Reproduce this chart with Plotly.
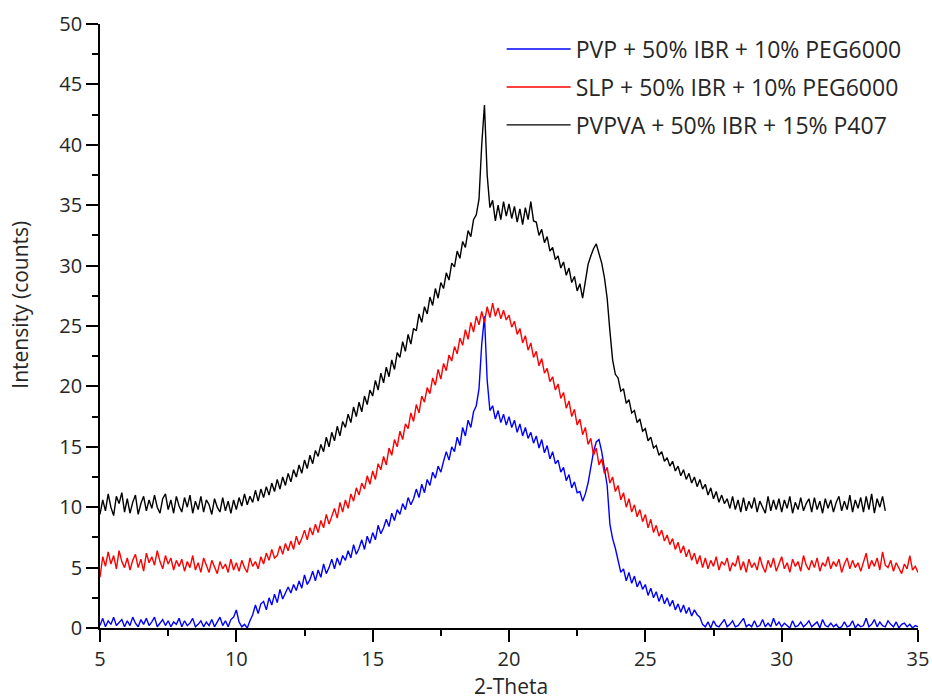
import plotly.graph_objects as go

# 2-theta scan grid (step 0.1 deg)
two_theta_full = [round(5 + 0.1 * i, 1) for i in range(301)]     # 5.0 .. 35.0
two_theta_black = [round(5 + 0.1 * i, 1) for i in range(289)]    # 5.0 .. 33.8

series_names = [
    "PVP + 50% IBR + 10% PEG6000",
    "SLP + 50% IBR + 10% PEG6000",
    "PVPVA + 50% IBR + 15% P407",
]

pvp_counts = [
    0.2, 0.8, 0.1, 0.6, 0.3, 0.9, 0.2, 0.5, 0.7, 0.1,
    0.6, 0.2, 0.9, 0.4, 0.1, 0.7, 0.3, 0.8, 0.2, 0.5,
    0.9, 0.1, 0.4, 0.7, 0.2, 0.6, 0.1, 0.5, 0.3, 0.8,
    0.1, 0.6, 0.2, 0.4, 0.8, 0.1, 0.3, 0.6, 0.1, 0.5,
    0.2, 0.7, 0.1, 0.5, 0.9, 0.2, 0.6, 0.1, 0.7, 0.9,
    1.5, 0.5, 0.1, 0.3, 0.0, 0.6, 1.1, 1.9, 1.2, 2.0,
    2.2, 1.5, 2.5, 1.9, 2.8, 2.1, 3.2, 2.4, 2.9, 3.4,
    2.9, 3.6, 3.1, 3.9, 3.3, 4.4, 3.6, 4.0, 4.7, 3.9,
    4.8, 4.2, 5.3, 4.5, 5.0, 5.7, 4.9, 5.8, 5.2, 6.0,
    5.6, 6.4, 5.8, 6.9, 6.1, 6.6, 7.3, 6.5, 7.6, 7.0,
    7.9, 7.3, 8.5, 7.8, 8.3, 9.0, 8.4, 9.5, 8.9, 9.8,
    9.4, 10.3, 9.8, 10.8, 10.2, 10.7, 11.5, 10.8, 11.9, 11.2,
    12.3, 11.8, 12.9, 12.4, 13.4, 12.9, 13.8, 14.6, 13.9, 15.0,
    14.6, 15.8, 15.1, 16.6, 15.9, 17.2, 16.6, 17.9, 18.4, 19.8,
    23.5, 25.8, 20.5, 18.0, 18.4, 17.3, 18.0, 17.0, 17.7, 16.8,
    17.5, 16.6, 17.2, 16.2, 16.9, 15.9, 16.6, 15.7, 16.2, 15.3,
    15.9, 14.9, 15.6, 14.5, 15.1, 14.0, 14.6, 13.6, 13.9, 12.9,
    13.3, 12.2, 12.7, 11.6, 12.1, 11.2, 11.3, 10.5, 11.1, 12.0,
    13.3, 14.6, 15.4, 15.6, 14.6, 13.2, 11.8, 8.6, 7.4, 6.6,
    5.5, 4.6, 4.9, 3.9, 4.6, 3.7, 4.3, 3.4, 3.9, 3.2,
    3.6, 2.7, 3.3, 2.5, 3.0, 2.2, 2.8, 2.0, 2.5, 1.8,
    2.3, 1.5, 2.0, 1.3, 1.9, 1.2, 1.7, 1.0, 1.5, 1.1,
    0.9, 0.3, 0.1, 0.5, 0.0, 0.6, 0.2, 0.1, 0.4, 0.7,
    0.1, 0.3, 0.6, 0.1, 0.2, 0.5, 0.8, 0.1, 0.3, 0.1,
    0.6, 0.1, 0.2, 0.7, 0.1, 0.4, 0.1, 0.8, 0.2, 0.5,
    0.1, 0.4, 0.2, 0.0, 0.6, 0.1, 0.2, 0.5, 0.1, 0.3,
    0.6, 0.1, 0.3, 0.5, 0.0, 0.7, 0.2, 0.1, 0.4, 0.1,
    0.3, 0.0, 0.1, 0.5, 0.1, 0.2, 0.6, 0.0, 0.3, 0.1,
    0.2, 0.8, 0.1, 0.3, 0.7, 0.1, 0.5, 0.2, 0.1, 0.6,
    0.3, 0.1, 0.5, 0.0, 0.3, 0.4, 0.1, 0.3, 0.0, 0.2,
    0.1,
]

slp_counts = [
    4.2, 5.9, 5.1, 6.3, 5.3, 6.0, 4.9, 6.4, 5.5, 5.0,
    5.8, 4.8, 5.6, 6.1, 5.0, 5.7, 4.7, 6.2, 5.4, 5.9,
    5.2, 6.4, 5.5, 4.9, 6.0, 5.3, 5.8, 4.8, 5.6, 5.1,
    5.7, 4.7, 5.5, 5.0, 6.0, 4.8, 5.4, 4.6, 5.8, 5.1,
    4.6, 5.6, 5.0, 4.5, 5.5, 4.9, 5.3, 4.6, 5.7, 4.8,
    5.4, 4.7, 5.6, 5.0, 4.6, 5.8, 5.1, 5.5, 4.9, 5.9,
    5.3, 6.2, 5.6, 6.5, 5.8, 6.0, 6.8, 6.1, 7.0, 6.4,
    7.2, 6.5, 7.6, 6.9, 7.4, 8.1, 7.3, 8.3, 7.7, 8.6,
    7.9, 8.9, 8.3, 9.4, 8.6, 9.2, 9.9, 9.1, 10.4, 9.6,
    10.6, 9.9, 11.1, 10.5, 11.6, 11.0, 12.0, 11.5, 12.6, 11.9,
    13.0, 12.3, 13.6, 13.1, 14.2, 13.5, 14.9, 14.3, 15.6, 15.0,
    16.3, 15.6, 16.9, 16.5, 17.8, 17.1, 18.5, 17.8, 19.2, 18.7,
    19.9, 19.4, 20.7, 20.1, 21.4, 20.6, 21.9, 21.3, 22.6, 22.1,
    23.3, 22.7, 24.0, 23.4, 24.7, 23.9, 25.3, 24.5, 25.8, 25.1,
    26.2, 25.3, 26.6, 25.7, 26.9, 25.8, 26.5, 25.6, 26.3, 25.5,
    25.9, 24.9, 25.4, 24.3, 24.8, 23.6, 24.2, 23.0, 23.6, 22.4,
    22.9, 21.7, 22.3, 21.1, 21.5, 20.4, 20.8, 19.7, 20.2, 19.0,
    19.5, 18.2, 18.8, 17.5, 18.1, 16.8, 17.3, 16.0, 16.6, 15.2,
    15.7, 14.3, 14.9, 13.5, 14.0, 12.8, 13.3, 12.0, 12.5, 11.3,
    11.8, 10.6, 11.2, 10.0, 10.7, 9.6, 10.2, 9.2, 9.8, 8.8,
    9.4, 8.3, 9.0, 7.9, 8.5, 7.6, 8.1, 7.2, 7.7, 6.9,
    7.4, 6.5, 7.1, 6.2, 6.8, 5.9, 6.5, 5.6, 6.2, 5.3,
    6.0, 5.0, 5.8, 4.9, 5.6, 5.1, 5.9, 4.8, 5.5, 5.2,
    5.8, 4.7, 5.4, 5.1, 6.0, 4.8, 5.5, 4.6, 5.7, 5.0,
    5.4, 4.8, 5.9, 5.1, 4.6, 5.6, 5.0, 5.8, 4.7, 5.3,
    5.9, 4.9, 5.4, 4.6, 5.7, 5.1, 5.5, 4.7, 6.0, 5.2,
    4.8, 5.6, 5.0, 5.8, 4.7, 5.4, 5.1, 5.9, 4.9, 5.5,
    5.1, 5.7, 4.6, 5.3, 5.8, 4.9, 5.6, 5.0, 5.4, 4.7,
    5.5, 6.2, 4.9, 5.6, 5.1, 5.8, 4.8, 6.3, 5.2, 5.0,
    5.6, 4.7, 5.4, 5.0, 4.5, 5.3, 4.9, 6.0, 4.8, 5.1,
    4.6,
]

pvpva_counts = [
    9.4, 10.6, 9.7, 11.1, 10.0, 9.3, 10.9, 10.3, 11.2, 9.6,
    10.7, 9.5, 10.4, 11.0, 9.4, 10.3, 10.9, 9.7, 10.6, 9.9,
    11.0, 10.0, 9.5, 10.7, 11.1, 9.8, 10.6, 9.5, 10.9, 10.1,
    9.6, 10.8, 10.0, 11.0, 9.5, 10.5, 9.8, 10.9, 9.6, 10.6,
    10.2, 9.4, 10.7, 10.0, 9.6, 10.8, 9.7, 10.5, 9.5, 10.6,
    9.8, 10.8, 10.1, 11.1, 10.2, 10.9, 10.4, 11.4, 10.5, 11.5,
    10.8, 11.7, 11.0, 12.0, 11.3, 12.3, 11.5, 12.5, 11.8, 12.8,
    12.1, 13.1, 12.5, 13.5, 12.8, 13.9, 13.2, 14.3, 13.6, 14.7,
    14.2, 15.2, 14.6, 15.8, 15.0, 16.2, 15.5, 16.7, 15.9, 17.1,
    16.6, 17.7, 17.0, 18.3, 17.5, 18.7, 17.9, 19.2, 18.5, 19.7,
    19.2, 20.5, 19.7, 21.1, 20.3, 21.6, 20.8, 22.2, 21.4, 22.8,
    22.4, 23.7, 22.9, 24.3, 23.5, 24.8, 24.6, 26.0, 25.3, 26.6,
    26.0, 27.4, 26.7, 28.1, 27.3, 28.6, 28.1, 29.4, 28.8, 30.2,
    29.9, 31.2, 30.6, 32.0, 31.5, 32.9, 32.4, 33.8, 34.2, 35.5,
    40.0, 43.3, 37.5, 34.8, 35.4, 33.7, 35.0, 33.8, 35.3, 34.1,
    35.1, 33.9, 34.9, 33.6, 34.7, 33.4, 34.8, 33.8, 35.3, 33.7,
    33.6, 32.5, 33.0, 31.9, 32.4, 31.2, 31.5, 30.5, 30.8, 29.8,
    30.3, 29.2, 29.8, 28.6, 29.1, 27.9, 28.5, 27.3, 28.7, 30.1,
    30.8, 31.4, 31.8, 31.1, 30.2, 29.0, 27.3, 24.6, 22.2, 21.0,
    20.7, 19.6, 19.8, 18.6, 18.9, 17.8, 18.0, 17.0, 17.3, 16.3,
    16.5, 15.5, 15.8, 14.9, 15.1, 14.3, 14.6, 13.8, 14.1, 13.4,
    13.8, 13.0, 13.4, 12.6, 13.1, 12.3, 12.8, 12.0, 12.5, 11.7,
    12.3, 11.5, 11.9, 11.0, 11.6, 10.7, 11.3, 10.4, 11.0, 10.3,
    10.7, 9.9, 10.9, 9.8, 10.6, 9.6, 10.8, 9.7, 10.5, 9.9,
    10.8, 9.6, 10.5, 10.0, 9.5, 10.9, 9.7, 10.6, 9.8, 10.7,
    9.6, 10.6, 9.9, 10.9, 9.5, 10.4, 9.8, 10.8, 9.7, 10.3,
    10.7, 9.6, 10.8, 9.8, 10.5, 9.5, 10.7, 9.9, 10.6, 9.6,
    10.4, 10.9, 9.7, 10.5, 9.8, 11.0, 9.6, 10.6, 9.9, 10.8,
    9.6, 10.9, 9.8, 11.1, 9.5, 10.7, 10.0, 10.9, 9.7,
]

x_ticks = [5, 10, 15, 20, 25, 30, 35]
y_ticks = [0, 5, 10, 15, 20, 25, 30, 35, 40, 45, 50]
colors = ["#0000FF", "#FF0000", "#000000"]

FONT = "Open Sans, DejaVu Sans, sans-serif"
TXT = "#262626"

fig = go.Figure()
for name, xs, ys, col, grp in [
    (series_names[0], two_theta_full, pvp_counts, colors[0], "a"),
    (series_names[1], two_theta_full, slp_counts, colors[1], "b"),
    (series_names[2], two_theta_black, pvpva_counts, colors[2], "c"),
]:
    fig.add_trace(go.Scatter(x=xs, y=ys, mode="lines", name=name, legendgroup=grp,
                             line=dict(color=col, width=1.4)))

axis_common = dict(
    showgrid=False, zeroline=False, showline=True, linecolor="#000000", linewidth=1.6,
    ticks="outside", ticklen=12, tickwidth=1.6, tickcolor="#000000", automargin=False,
    tickfont=dict(family=FONT, size=20, color=TXT), mirror=False,
)

fig.update_layout(
    width=932, height=699,
    margin=dict(l=100, r=14, t=24, b=71),
    paper_bgcolor="white", plot_bgcolor="white",
    font=dict(family=FONT, color=TXT),
    xaxis=dict(range=[5, 35], tickvals=x_ticks,
               minor=dict(ticks="outside", ticklen=6, tickwidth=1.6, dtick=2.5, tick0=5,
                          tickcolor="#000000"),
               **axis_common),
    yaxis=dict(range=[0, 50], tickvals=y_ticks,
               minor=dict(ticks="outside", ticklen=6, tickwidth=1.6, dtick=2.5, tick0=0,
                          tickcolor="#000000"),
               **axis_common),
    legend=dict(x=0.491, xanchor="left", y=0.994, yanchor="top", itemwidth=64,
                font=dict(family=FONT, size=23, color=TXT), tracegroupgap=5,
                bgcolor="rgba(0,0,0,0)"),
    annotations=[
        dict(text="Intensity (counts)", textangle=-90, xref="paper", yref="paper",
             x=-0.098, y=0.535, xanchor="center", yanchor="middle", showarrow=False,
             font=dict(family=FONT, size=21, color=TXT)),
        dict(text="2-Theta", xref="paper", yref="paper",
             x=0.502, y=-0.096, xanchor="center", yanchor="middle", showarrow=False,
             font=dict(family=FONT, size=21, color=TXT)),
    ],
)

# remove the page's default 8px body margin so the 932x699 figure fills the window exactly
fig.write_html(
    "out.html",
    config={"displayModeBar": False},
    post_script="document.body.style.margin='0';document.body.style.overflow='hidden';",
)
